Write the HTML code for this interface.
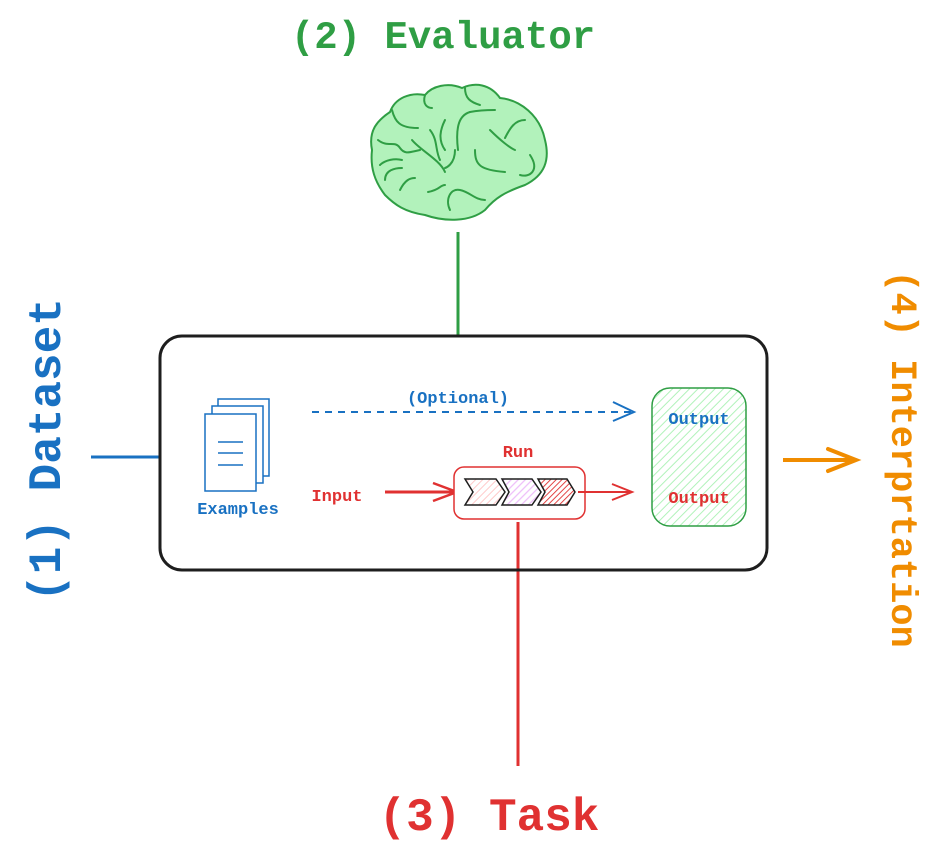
<!DOCTYPE html>
<html><head><meta charset="utf-8"><style>
html,body{margin:0;padding:0;background:#fff;}
svg{display:block;}
text{font-family:"Liberation Mono",monospace;font-weight:bold;}
</style></head><body>
<svg width="940" height="850" viewBox="0 0 940 850" xmlns="http://www.w3.org/2000/svg">
<defs>
<pattern id="hg" width="6" height="6" patternUnits="userSpaceOnUse" patternTransform="rotate(45)"><rect width="6" height="6" fill="#fff"/><line x1="0" y1="0" x2="0" y2="6" stroke="#b2f2bb" stroke-width="2"/></pattern>
<pattern id="h1" width="5" height="5" patternUnits="userSpaceOnUse" patternTransform="rotate(45)"><rect width="5" height="5" fill="#fff"/><line x1="0" y1="0" x2="0" y2="5" stroke="#ffc9c9" stroke-width="2"/></pattern>
<pattern id="h2" width="5" height="5" patternUnits="userSpaceOnUse" patternTransform="rotate(45)"><rect width="5" height="5" fill="#fff"/><line x1="0" y1="0" x2="0" y2="5" stroke="#eebefa" stroke-width="2.5"/></pattern>
<pattern id="h3" width="4" height="4" patternUnits="userSpaceOnUse" patternTransform="rotate(45)"><rect width="4" height="4" fill="#fff"/><line x1="0" y1="0" x2="0" y2="4" stroke="#e03131" stroke-width="1.8"/></pattern>
</defs>

<!-- titles -->
<text x="443" y="48" font-size="39" fill="#2f9e44" text-anchor="middle">(2) Evaluator</text>
<text x="489" y="830" font-size="46" fill="#e03131" text-anchor="middle">(3) Task</text>
<text transform="translate(60,450) rotate(-90)" font-size="46" fill="#1971c2" text-anchor="middle">(1) Dataset</text>
<text transform="translate(892,459) rotate(90)" font-size="37" fill="#f08c00" text-anchor="middle">(4) Interprtation</text>

<!-- brain -->
<g stroke="#2f9e44" stroke-width="2" fill="none" stroke-linecap="round">
<path d="M372,150 C368,130 378,120 390,112 C395,98 410,92 425,95 C432,86 448,82 462,88 C475,82 490,84 500,98 C520,100 540,115 545,140 C550,160 545,175 525,185 C505,192 495,198 485,210 C470,222 445,222 425,215 C405,212 395,205 385,195 C375,182 370,168 372,150 Z" fill="#b2f2bb"/>
<path d="M392,110 C395,122 400,128 418,128"/>
<path d="M425,95 C422,105 428,108 432,108"/>
<path d="M465,88 C465,98 470,102 480,105"/>
<path d="M378,140 C388,148 395,140 400,148 C405,155 410,152 420,150"/>
<path d="M412,140 C420,150 440,160 445,172"/>
<path d="M445,120 C440,130 438,140 445,150"/>
<path d="M470,112 C460,115 455,125 458,150"/>
<path d="M470,112 C480,110 488,110 495,110"/>
<path d="M490,130 C500,140 510,148 515,150"/>
<path d="M525,120 C515,120 510,128 505,138"/>
<path d="M455,150 C455,165 445,168 445,168"/>
<path d="M475,150 C475,165 480,170 505,172"/>
<path d="M530,155 C540,170 530,178 520,175"/>
<path d="M380,165 C385,160 395,158 402,160"/>
<path d="M385,180 C385,170 395,168 402,168"/>
<path d="M400,190 C405,180 410,178 415,178"/>
<path d="M428,192 C440,190 440,185 445,185"/>
<path d="M450,210 C445,200 450,188 460,190 C470,192 475,200 485,200"/>
<path d="M430,130 C438,140 435,150 440,160"/>
</g>

<!-- connector lines -->
<line x1="458" y1="232" x2="458" y2="336" stroke="#2f9e44" stroke-width="3"/>
<line x1="91" y1="457" x2="160" y2="457" stroke="#1971c2" stroke-width="3"/>
<line x1="518" y1="522" x2="518" y2="766" stroke="#e03131" stroke-width="3"/>
<line x1="783" y1="460" x2="852" y2="460" stroke="#f08c00" stroke-width="4"/>
<path d="M828,449 L856,460 L828,471" fill="none" stroke="#f08c00" stroke-width="4" stroke-linecap="round"/>

<!-- main box -->
<rect x="160" y="336" width="607" height="234" rx="22" fill="none" stroke="#1e1e1e" stroke-width="3"/>

<!-- examples docs -->
<g fill="#fff" stroke="#1971c2" stroke-width="1.5">
<rect x="218" y="399" width="51" height="77"/>
<rect x="212" y="406" width="51" height="77"/>
<rect x="205" y="414" width="51" height="77"/>
</g>
<g stroke="#1971c2" stroke-width="1.5">
<line x1="218" y1="442" x2="243" y2="442"/>
<line x1="218" y1="453" x2="243" y2="453"/>
<line x1="218" y1="465" x2="243" y2="465"/>
</g>
<text x="238" y="514" font-size="17" fill="#1971c2" text-anchor="middle">Examples</text>

<!-- optional -->
<text x="458" y="403" font-size="17" fill="#1971c2" text-anchor="middle">(Optional)</text>
<line x1="312" y1="412" x2="634" y2="412" stroke="#1971c2" stroke-width="2" stroke-dasharray="7,6"/>
<path d="M613,402 L634,412 L613,421" fill="none" stroke="#1971c2" stroke-width="2"/>

<!-- output box -->
<rect x="652" y="388" width="94" height="138" rx="18" fill="url(#hg)" stroke="#2f9e44" stroke-width="1.5"/>
<text x="699" y="424" font-size="17" fill="#1971c2" text-anchor="middle">Output</text>
<text x="699" y="503" font-size="17" fill="#e03131" text-anchor="middle">Output</text>

<!-- input/run -->
<text x="337" y="501" font-size="17" fill="#e03131" text-anchor="middle">Input</text>
<line x1="385" y1="492" x2="455" y2="492" stroke="#e03131" stroke-width="3"/>
<path d="M433,483 L457,492 L433,501" fill="none" stroke="#e03131" stroke-width="2.5"/>
<text x="518" y="457" font-size="17" fill="#e03131" text-anchor="middle">Run</text>
<rect x="454" y="467" width="131" height="52" rx="10" fill="#fff" stroke="#e03131" stroke-width="1.5"/>
<path d="M465,479 L496,479 L505,492 L496,505 L465,505 L473,492 Z" fill="url(#h1)" stroke="#1e1e1e" stroke-width="1.5"/>
<path d="M502,479 L532,479 L541,492 L532,505 L502,505 L509,492 Z" fill="url(#h2)" stroke="#1e1e1e" stroke-width="1.5"/>
<path d="M538,479 L567,479 L575,492 L567,505 L538,505 L545,492 Z" fill="url(#h3)" stroke="#1e1e1e" stroke-width="1.5"/>
<line x1="578" y1="492" x2="632" y2="492" stroke="#e03131" stroke-width="2"/>
<path d="M612,484 L632,492 L612,500" fill="none" stroke="#e03131" stroke-width="2"/>
</svg>
</body></html>
